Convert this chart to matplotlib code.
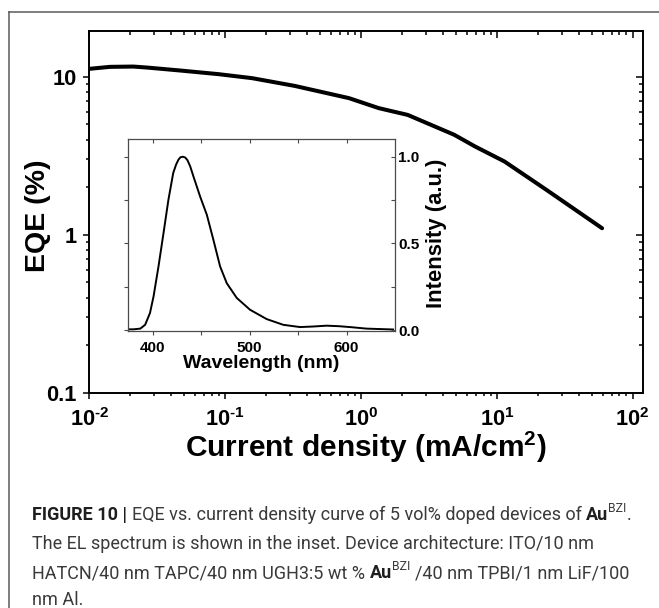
import numpy as np
import matplotlib
matplotlib.use("Agg")
import matplotlib.pyplot as plt
from matplotlib.ticker import LogLocator, NullFormatter, FixedLocator
from matplotlib.lines import Line2D

# ---------------- data ----------------
current_density = [0.0100, 0.0142, 0.0211, 0.0267, 0.0472, 0.0895, 0.158, 0.324,
                   0.817, 1.35, 2.21, 4.85, 6.93, 11.4, 23.3, 59.6]
eqe = [11.24, 11.57, 11.62, 11.45, 10.96, 10.4, 9.81, 8.77,
       7.33, 6.34, 5.74, 4.30, 3.62, 2.91, 1.92, 1.10]

wavelength = [373, 380, 387, 392, 397, 400.7, 405.8, 411, 416, 421, 424, 426.4,
              428.5, 431, 433.5, 435.7, 438.5, 441.9, 448.8, 455.7, 462.5, 469.4,
              476.3, 486.6, 500.3, 517.5, 534.6, 551.9, 565, 579.4, 592, 603.4,
              620.6, 648]
intensity = [0.004, 0.004, 0.008, 0.03, 0.098, 0.194, 0.367, 0.56, 0.75, 0.906,
             0.955, 0.983, 0.997, 1.0, 0.995, 0.98, 0.945, 0.886, 0.77, 0.665,
             0.52, 0.367, 0.27, 0.185, 0.117, 0.063, 0.03, 0.017, 0.02, 0.025,
             0.022, 0.017, 0.008, 0.003]

x_ticks = [1e-2, 1e-1, 1e0, 1e1, 1e2]
x_tick_labels = ["10$^{\\text{-}2}$", "10$^{\\text{-}1}$", "10$^{0}$", "10$^{1}$", "10$^{2}$"]
y_ticks = [0.1, 1, 10]
y_tick_labels = ["0.1", "1", "10"]

in_x_ticks = [400, 500, 600]
in_x_tick_labels = ["400", "500", "600"]
in_x_minor = [450, 550]
in_y_ticks = [0.0, 0.5, 1.0]
in_y_tick_labels = ["0.0", "0.5", "1.0"]
in_y_minor = [0.25, 0.75]

caption_lines = [
    [("FIGURE 10 |", "b"), (" ", "s"), ("EQE vs. current density curve of 5 vol% doped devices of", "n"),
     (" ", "s"), ("Au", "b"), ("BZI", "sup"), (".", "n")],
    [("The EL spectrum is shown in the inset. Device architecture: ITO/10 nm", "n")],
    [("HATCN/40 nm TAPC/40 nm UGH3:5 wt %", "n"), (" ", "s"), ("Au", "b"), ("BZI", "sup"),
     (" ", "s"), ("/40 nm TPBI/1 nm LiF/100", "n")],
    [("nm Al.", "n")],
]

# ---------------- style ----------------
plt.rcParams["font.family"] = ["Liberation Sans", "DejaVu Sans"]
plt.rcParams["font.weight"] = "bold"
plt.rcParams["mathtext.fontset"] = "custom"
plt.rcParams["mathtext.rm"] = "Liberation Sans:bold"
plt.rcParams["mathtext.it"] = "Liberation Sans:bold"
plt.rcParams["mathtext.bf"] = "Liberation Sans:bold"
plt.rcParams["mathtext.sf"] = "Liberation Sans:bold"

W, H = 659, 608
fig = plt.figure(figsize=(W / 100, H / 100), dpi=100)

def rect(l, t, r, b):
    return [l / W, 1 - b / H, (r - l) / W, (b - t) / H]

# ---------------- main axes ----------------
main_rect = rect(89.3, 30.7, 642.7, 392.7)
ax = fig.add_axes(main_rect)
ax.set_xscale("log")
ax.set_yscale("log")
ax.plot(current_density, eqe, color="black", lw=2.9,
        solid_capstyle="round", solid_joinstyle="round")
ax.set_xlim(0.01, 118.6)
ax.set_ylim(0.1, 19.6)
ax.set_xticks(x_ticks, labels=x_tick_labels)
ax.set_yticks(y_ticks, labels=y_tick_labels)
ax.xaxis.set_minor_locator(LogLocator(base=10, subs=np.arange(2, 10), numticks=30))
ax.yaxis.set_minor_locator(LogLocator(base=10, subs=np.arange(2, 10), numticks=30))
ax.xaxis.set_minor_formatter(NullFormatter())
ax.yaxis.set_minor_formatter(NullFormatter())
ax.tick_params(which="both", direction="out", top=False, right=False, width=1.1,
               labelsize=15.7)
ax.tick_params(which="major", length=4.3)
ax.tick_params(which="minor", length=2.4)
ax.tick_params(axis="x", which="major", pad=7)
ax.tick_params(axis="y", which="major", pad=5)
for sp in ax.spines.values():
    sp.set_linewidth(1.4)

ax_o = fig.add_axes(main_rect, sharex=ax, sharey=ax)
ax_o.patch.set_visible(False)
for sp in ax_o.spines.values():
    sp.set_visible(False)
ax_o.tick_params(which="both", direction="in", bottom=False, left=False, top=True,
                 right=True, labelbottom=False, labelleft=False, width=1.1)
ax_o.tick_params(which="major", length=4.8)
ax_o.tick_params(which="minor", length=2.6)

ax.text(-0.0936, 0.49, "EQE (%)", transform=ax.transAxes, rotation=90,
        ha="center", va="center", fontsize=20.5, fontweight="bold")
ax.text(0.5, -0.1768, "Current density (mA/cm$^2$)", transform=ax.transAxes,
        ha="center", va="baseline", fontsize=21.5, fontweight="bold")

# ---------------- inset ----------------
in_rect = rect(127.7, 138.7, 395.0, 330.7)
ax_in = fig.add_axes(in_rect)
ax_in.plot(wavelength, intensity, color="black", lw=1.4, solid_joinstyle="round")
ax_in.set_xlim(374, 650)
ax_in.set_ylim(-0.004, 1.104)
ax_in.set_xticks(in_x_ticks, labels=in_x_tick_labels)
ax_in.set_yticks(in_y_ticks, labels=in_y_tick_labels)
ax_in.xaxis.set_minor_locator(FixedLocator(in_x_minor))
ax_in.yaxis.set_minor_locator(FixedLocator(in_y_minor))
spine_col = "#4a4a4a"
for sp in ax_in.spines.values():
    sp.set_linewidth(0.9)
    sp.set_color(spine_col)
ax_in.tick_params(which="both", direction="out", top=False, right=False,
                  labelleft=False, width=0.8, color=spine_col, length=3,
                  labelsize=11)
ax_in.tick_params(axis="x", pad=4.5)

ax_in_o = fig.add_axes(in_rect, sharex=ax_in, sharey=ax_in)
ax_in_o.patch.set_visible(False)
for sp in ax_in_o.spines.values():
    sp.set_visible(False)
ax_in_o.tick_params(which="both", direction="in", bottom=False, left=False, top=True,
                    right=True, labelbottom=False, labelleft=False, labelright=True,
                    width=0.8, color=spine_col, length=3, labelsize=11, pad=2.5)

ax_in.text(0.5, -0.194, "Wavelength (nm)", transform=ax_in.transAxes,
           ha="center", va="baseline", fontsize=14, fontweight="bold")
ax_in.text(1.157, 0.505, "Intensity (a.u.)", transform=ax_in.transAxes, rotation=90,
           ha="center", va="center", fontsize=15.8, fontweight="bold")

# ---------------- frame ----------------
frame_col = "#5a5a5a"
fig.add_artist(Line2D([9.3 / W, 1.0], [1 - 12.3 / H, 1 - 12.3 / H],
                      transform=fig.transFigure, color=frame_col, lw=1.1))
fig.add_artist(Line2D([9.3 / W, 9.3 / W], [1 - 12.3 / H, 0.0],
                      transform=fig.transFigure, color=frame_col, lw=1.1))

# ---------------- caption ----------------
renderer = fig.canvas.get_renderer()
cap_family = ["Roboto", "Liberation Sans", "DejaVu Sans"]
cap_size = 13.0
styles = {
    "n": dict(fontsize=cap_size, fontweight="normal", color="#3a3a3a"),
    "b": dict(fontsize=cap_size, fontweight="bold", color="#1e1e1e"),
    "sup": dict(fontsize=cap_size * 0.68, fontweight="normal", color="#3a3a3a"),
}

def text_width(s, st):
    t = fig.text(0, 0, s, family=cap_family, **styles[st])
    w = t.get_window_extent(renderer).width
    t.remove()
    return w

space_w = text_width("x x", "n") - text_width("xx", "n")
baselines = [520.0, 549.0, 578.0, 605.0]
x0 = 32.3
for line, yb in zip(caption_lines, baselines):
    x = x0
    for s, st in line:
        if st == "s":
            x += space_w
            continue
        dy = -7.5 if st == "sup" else 0.0
        t = fig.text(x / W, 1 - (yb + dy) / H, s, family=cap_family,
                     ha="left", va="baseline", **styles[st])
        x += t.get_window_extent(renderer).width

fig.savefig("out.png", dpi=100)
